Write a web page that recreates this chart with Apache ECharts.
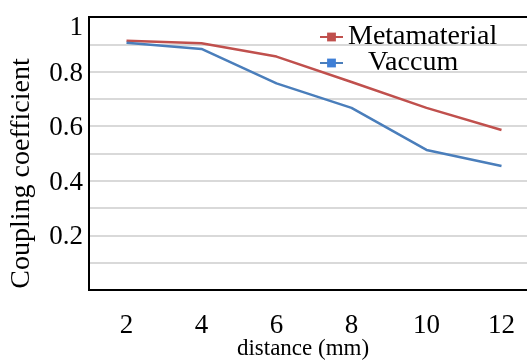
<!DOCTYPE html>
<html><head><meta charset="utf-8">
<script src="https://cdn.jsdelivr.net/npm/echarts@6/dist/echarts.min.js"></script>
<style>html,body{margin:0;padding:0;background:#fff}#c{width:527px;height:361px}</style>
</head><body><div id="c"></div>
<script>
const categories = ['2', '4', '6', '8', '10', '12'];
const metamaterial = [0.913, 0.904, 0.855, 0.762, 0.667, 0.586];
const vaccum = [0.906, 0.883, 0.757, 0.667, 0.513, 0.454];
const yLabels = [0.2, 0.4, 0.6, 0.8, 1];

const FONT = '"Liberation Serif", "Times New Roman", serif';
const chart = echarts.init(document.getElementById('c'), null, {renderer: 'canvas'});
chart.setOption({
  animation: false,
  backgroundColor: '#fff',
  grid: {left: 89, top: 17, width: 450, height: 273, outerBoundsMode: 'none', containLabel: false,
         show: true, borderColor: '#000', borderWidth: 2, backgroundColor: 'transparent'},
  legend: [
    {data: ['Metamaterial'], left: 314, top: 18, itemWidth: 23, itemHeight: 11, selectedMode: false,
     textStyle: {fontFamily: FONT, fontSize: 28, color: '#000'}},
    {data: ['Vaccum'], left: 314, top: 44, itemWidth: 23, itemHeight: 11, selectedMode: false,
     textStyle: {fontFamily: FONT, fontSize: 28, color: '#000', padding: [0, 0, 0, 20]}}
  ],
  xAxis: {
    type: 'category', data: categories, boundaryGap: true,
    name: 'distance (mm)', nameLocation: 'middle', nameGap: 47, nameMoveOverlap: false,
    nameTextStyle: {fontFamily: FONT, fontSize: 23, color: '#000', padding: [0, 22, 0, 0]},
    axisLine: {lineStyle: {color: '#000', width: 2}},
    axisTick: {show: false},
    axisLabel: {fontFamily: FONT, fontSize: 27, color: '#000', margin: 22},
    splitLine: {show: false}
  },
  yAxis: {
    type: 'value', min: 0, max: 1, interval: 0.1,
    name: 'Coupling coefficient', nameLocation: 'middle', nameGap: 53, nameMoveOverlap: false,
    nameTextStyle: {fontFamily: FONT, fontSize: 28, color: '#000', padding: [0, 40, 0, 0]},
    axisLine: {show: true, lineStyle: {color: '#000', width: 2}},
    axisTick: {show: false},
    axisLabel: {fontFamily: FONT, fontSize: 27, color: '#000', margin: 6,
      formatter: function (v) {
        const hit = yLabels.find(function (l) { return Math.abs(l - v) < 1e-6; });
        if (hit === undefined) return '';
        return (hit === 1 ? '{t|' : '{n|') + String(hit) + '}';
      },
      rich: {
        n: {fontFamily: FONT, fontSize: 27, color: '#000', padding: [4, 0, 0, 0]},
        t: {fontFamily: FONT, fontSize: 27, color: '#000', padding: [22, 0, 0, 0]}
      }},
    splitLine: {show: true, showMinLine: false, showMaxLine: false, lineStyle: {color: '#d9d9d9', width: 2}}
  },
  series: [
    {name: 'Metamaterial', type: 'line', data: metamaterial, symbol: 'rect', symbolSize: 10, showSymbol: false,
     lineStyle: {color: '#c0504d', width: 2.5}, itemStyle: {color: '#c0504d'}},
    {name: 'Vaccum', type: 'line', data: vaccum, symbol: 'rect', symbolSize: 10, showSymbol: false,
     lineStyle: {color: '#4a7ebb', width: 2.5}, itemStyle: {color: '#3f7fd6'}}
  ]
});
</script></body></html>
